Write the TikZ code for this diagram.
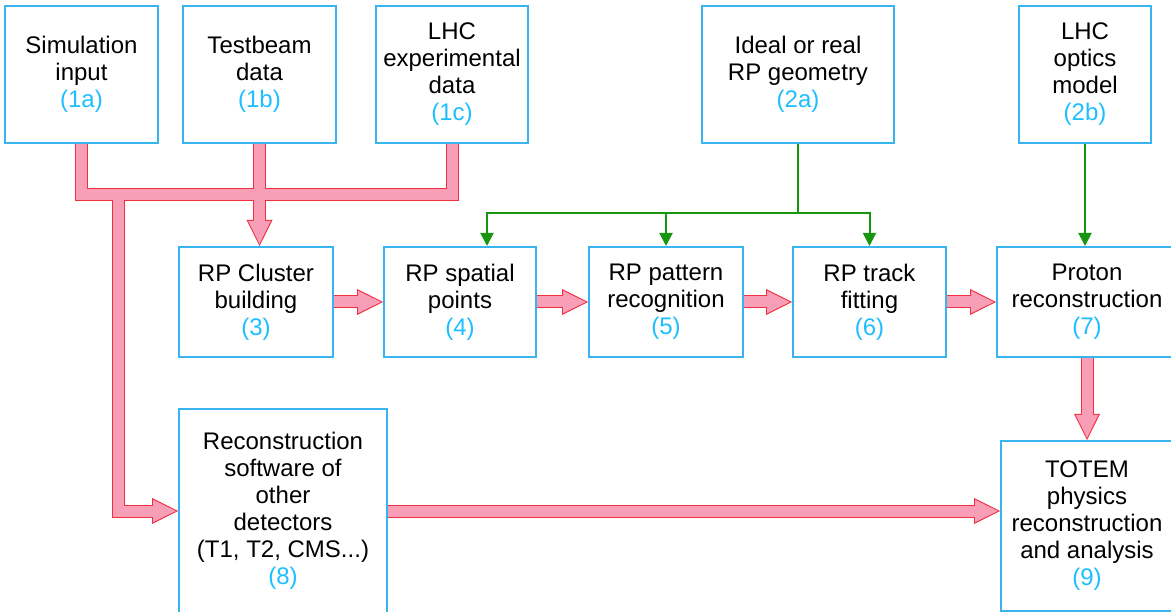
\documentclass[tikz,border=0pt]{standalone}
\usepackage{fontspec}
\setmainfont{Liberation Sans}
\usetikzlibrary{arrows.meta,calc}
\definecolor{boxc}{RGB}{56,180,238}
\definecolor{numc}{RGB}{30,190,255}
\definecolor{pinkc}{RGB}{248,158,183}
\definecolor{redc}{RGB}{240,48,64}
\definecolor{greenc}{RGB}{24,150,16}
\tikzset{
 box/.style={draw=boxc, line width=2pt, fill=white, align=center, inner sep=0pt,
   font=\fontsize{24}{27}\selectfont, text=black},
 gline/.style={draw=greenc, line width=2pt},
 garrow/.style={gline, -{Triangle[length=13pt,width=13pt]}},
 fatout/.style={draw=redc, line width=13pt, line join=miter},
 fatin/.style={draw=pinkc, line width=11pt, line join=miter},
 fatoutarr/.style={fatout, -{Triangle[length=26pt,width=26pt,line width=0pt]}},
 fatinarr/.style={fatin, shorten >=2.2pt, -{Triangle[length=22.8pt,width=22.6pt,line width=0pt]}},
}
\newcommand{\num}[1]{{\color{numc}#1}}
\newcommand{\fatpaths}[2]{%
  \draw[#1] (a1.south) -- (a1.south |- hbar) -- (a3.south |- hbar) -- (a3.south);
  \draw[#2] (a2.south) -- (a2.south |- b3.north);
  \draw[#2] (j8) |- (c8.west);
  \draw[#2] (b3.east) -- (b4.west);
  \draw[#2] (b4.east) -- (b5.west);
  \draw[#2] (b5.east) -- (b6.west);
  \draw[#2] (b6.east) -- (b7.west);
  \draw[#2] (b7.south) -- (b7.south |- c9.north);
  \draw[#2] (c8.east) -- (c8.east -| c9.west);
}
\begin{document}
\begin{tikzpicture}[x=1pt,y=-1pt]
\useasboundingbox (0,0) rectangle (1171,612);
\clip (0,0) rectangle (1171,612);
% top row
\node[box, minimum width=153pt, minimum height=137pt] (a1) at (81.5,74.5) {Simulation\\input\\\num{(1a)}};
\node[box, minimum width=153pt, minimum height=137pt] (a2) at (259.5,74.5) {Testbeam\\data\\\num{(1b)}};
\node[box, minimum width=152pt, minimum height=137pt] (a3) at (452,74.5) {LHC\\experimental\\data\\\num{(1c)}};
\node[box, minimum width=192pt, minimum height=137pt] (a4) at (798,74.5) {Ideal or real\\RP geometry\\\num{(2a)}};
\node[box, minimum width=132pt, minimum height=137pt] (a5) at (1085,74.5) {LHC\\optics\\model\\\num{(2b)}};
% middle row
\node[box, minimum width=154pt, minimum height=110pt] (b3) at (256,302) {RP Cluster\\building\\\num{(3)}};
\node[box, minimum width=152pt, minimum height=110pt] (b4) at (460,302) {RP spatial\\points\\\num{(4)}};
\node[box, minimum width=154pt, minimum height=110pt] (b5) at (666,302) {RP pattern\\recognition\\\num{(5)}};
\node[box, minimum width=153pt, minimum height=110pt] (b6) at (869.5,302) {RP track\\fitting\\\num{(6)}};
\node[box, minimum width=180pt, minimum height=110pt] (b7) at (1087,302) {Proton\\reconstruction\\\num{(7)}};
% bottom row
\node[box, minimum width=208pt, minimum height=204pt] (c8) at (283,511) {Reconstruction\\software of\\other\\detectors\\(T1, T2, CMS...)\\\num{(8)}};
\node[box, minimum width=172pt, minimum height=170pt] (c9) at (1087,526) {TOTEM\\physics\\reconstruction\\and analysis\\\num{(9)}};
% helper coordinates
\coordinate (hbar) at (0,195);
\coordinate (j8) at ($(a1.south |- hbar)+(36.5,0)$);
\coordinate (gy) at (0,213);
\coordinate (gj) at (a4.south |- gy);
% fat arrows
\fatpaths{fatout}{fatoutarr}
\fatpaths{fatin}{fatinarr}
% green arrows
\draw[gline] (a4.south) -- (gj);
\draw[garrow] (gj) -| ($(b4.north)+(27,0)$);
\draw[garrow] (gj) -| (b5.north);
\draw[garrow] (gj) -| (b6.north);
\draw[garrow] (a5.south) -- (a5.south |- b7.north);
\end{tikzpicture}
\end{document}
